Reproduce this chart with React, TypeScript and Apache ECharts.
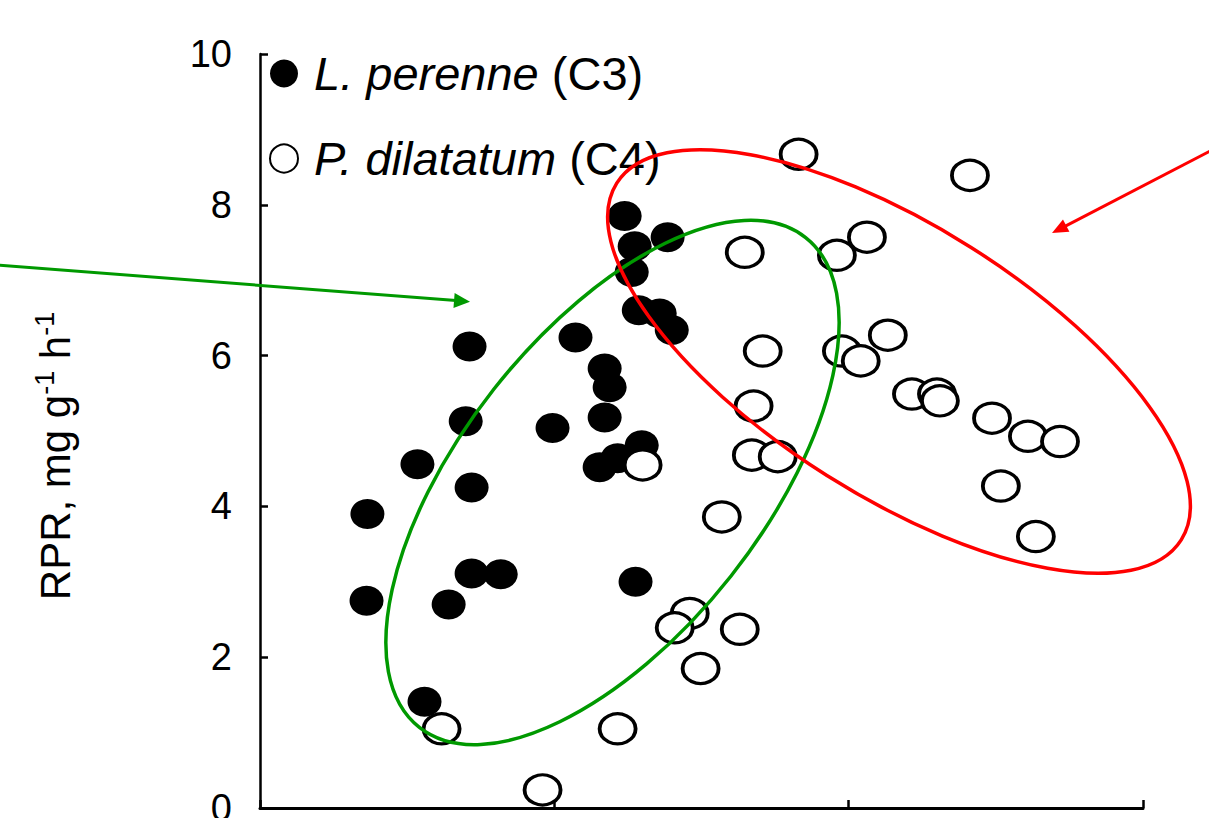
import React, { useEffect, useRef } from "react";
import * as echarts from "echarts";

// ---- data ----
const seriesNames = ["L. perenne (C3)", "P. dilatatum (C4)"];

const perenneX = [3.65, 3.62, 5.59, 5.35, 6.41, 7.12, 6.99, 7.19, 7.19, 8.18, 9.94, 10.72, 11.71, 11.88, 11.71, 11.54, 12.15, 12.97, 12.76, 12.39, 12.73, 12.63, 13.85, 12.87, 13.58, 13.99];
const perenneY = [3.90, 2.75, 1.41, 4.56, 2.70, 6.12, 5.13, 4.25, 3.11, 3.10, 5.04, 6.24, 5.83, 5.58, 5.18, 4.52, 4.64, 4.81, 3.00, 7.85, 7.45, 7.11, 7.57, 6.60, 6.56, 6.34];

const dilatatumX = [18.30, 24.12, 16.47, 19.60, 20.62, 17.08, 19.77, 20.41, 21.33, 16.77, 22.15, 23.00, 23.10, 24.87, 26.09, 27.18, 25.17, 26.36, 16.71, 17.59, 13.00, 15.69, 14.60, 14.09, 16.30, 14.97, 12.15, 6.17, 9.60];
const dilatatumY = [8.67, 8.39, 7.37, 7.33, 7.57, 6.06, 6.06, 5.93, 6.27, 5.33, 5.49, 5.49, 5.40, 5.17, 4.93, 4.86, 4.27, 3.60, 4.68, 4.66, 4.55, 3.86, 2.58, 2.39, 2.37, 1.85, 1.05, 1.05, 0.24];

const yMin = 0;
const yMax = 10;
const yInterval = 2;
const xMin = 0;
const xMax = 30;
const xInterval = 10;

const FONT = "'Liberation Sans', Arial, Helvetica, sans-serif";
const GREEN = "#009900";
const RED = "#ff0000";

function zip(xs: number[], ys: number[]) {
  return xs.map((x, i) => [x, ys[i]]);
}

function arrow(x1: number, y1: number, x2: number, y2: number, color: string, len: number, halfW: number) {
  const dx = x2 - x1;
  const dy = y2 - y1;
  const d = Math.sqrt(dx * dx + dy * dy);
  const ux = dx / d;
  const uy = dy / d;
  const bx = x2 - ux * len;
  const by = y2 - uy * len;
  const px = -uy;
  const py = ux;
  return [
    {
      type: "line",
      z: 100,
      silent: true,
      shape: { x1, y1, x2: bx + ux * 2, y2: by + uy * 2 },
      style: { stroke: color, lineWidth: 3 },
    },
    {
      type: "polygon",
      z: 100,
      silent: true,
      shape: {
        points: [
          [x2, y2],
          [bx + px * halfW, by + py * halfW],
          [bx - px * halfW, by - py * halfW],
        ],
      },
      style: { fill: color, stroke: "none" },
    },
  ];
}

export default function App() {
  const ref = useRef<HTMLDivElement>(null);

  useEffect(() => {
    document.body.style.margin = "0";
    if (!ref.current) return;
    const chart = echarts.init(ref.current, undefined, { renderer: "svg" });
    const H = chart.getHeight();
    const W = chart.getWidth();

    const option: any = {
      animation: false,
      backgroundColor: "#ffffff",
      textStyle: { fontFamily: FONT, color: "#000" },
      grid: {
        left: 260,
        right: W - 1143,
        top: 54,
        bottom: H - 808,
        containLabel: false,
        outerBoundsMode: "none",
      },
      legend: {
        orient: "vertical",
        left: 269,
        top: 50,
        padding: 0,
        itemGap: 38,
        itemWidth: 28,
        itemHeight: 28,
        selectedMode: false,
        data: [
          { name: seriesNames[0] },
          { name: seriesNames[1], itemStyle: { color: "#fff", borderColor: "#000", borderWidth: 2 } },
        ],
        formatter: (name: string) =>
          name === seriesNames[0] ? "{i|L. perenne }{n|(C3)}" : "{i|P. dilatatum }{n|(C4)}",
        textStyle: {
          rich: {
            i: { fontStyle: "italic", fontSize: 47, lineHeight: 46, color: "#000", fontFamily: FONT, padding: [0, 0, 0, 11] },
            n: { fontSize: 47, lineHeight: 46, color: "#000", fontFamily: FONT },
          },
        },
      },
      xAxis: {
        type: "value",
        min: xMin,
        max: xMax,
        interval: xInterval,
        axisLine: { show: true, lineStyle: { color: "#000", width: 3 } },
        axisTick: { show: true, inside: true, length: 8, lineStyle: { color: "#000", width: 2.5 } },
        axisLabel: { show: false },
        splitLine: { show: false },
      },
      yAxis: {
        type: "value",
        min: yMin,
        max: yMax,
        interval: yInterval,
        axisLine: { show: true, lineStyle: { color: "#000", width: 2.5 } },
        axisTick: { show: true, inside: true, length: 8, lineStyle: { color: "#000", width: 2.5 } },
        axisLabel: { fontSize: 38, color: "#000", fontFamily: FONT, margin: 28 },
        splitLine: { show: false },
      },
      series: [
        {
          name: seriesNames[0],
          type: "scatter",
          symbol: "circle",
          symbolSize: [34, 30],
          itemStyle: { color: "#000", opacity: 1 },
          emphasis: { disabled: true },
          data: zip(perenneX, perenneY),
          z: 2,
        },
        {
          name: seriesNames[1],
          type: "scatter",
          symbol: "circle",
          symbolSize: [36, 30],
          itemStyle: { color: "#fff", borderColor: "#000", borderWidth: 3.5, opacity: 1 },
          emphasis: { disabled: true },
          data: zip(dilatatumX, dilatatumY),
          z: 3,
        },
      ],
      graphic: [
        {
          type: "ellipse",
          z: 100,
          silent: true,
          x: 612.5,
          y: 482.5,
          rotation: (51.75 * Math.PI) / 180,
          shape: { cx: 0, cy: 0, rx: 312, ry: 151 },
          style: { fill: "none", stroke: GREEN, lineWidth: 3.5 },
        },
        {
          type: "ellipse",
          z: 100,
          silent: true,
          x: 899,
          y: 361.5,
          rotation: (-32.3 * Math.PI) / 180,
          shape: { cx: 0, cy: 0, rx: 334, ry: 135 },
          style: { fill: "none", stroke: RED, lineWidth: 3.5 },
        },
        ...arrow(-2, 265, 470, 301.7, GREEN, 16, 7.5),
        ...arrow(1214, 149, 1052, 233, RED, 16, 7),
        {
          type: "text",
          z: 100,
          silent: true,
          x: 55,
          y: 456,
          rotation: Math.PI / 2,
          style: {
            text: "{a|RPR, mg g}{s|-1}{a| h}{s|-1}",
            align: "center",
            verticalAlign: "middle",
            rich: {
              a: { fontSize: 42, lineHeight: 48, fontFamily: FONT, fill: "#000", color: "#000" },
              s: { fontSize: 27, lineHeight: 12, verticalAlign: "top", fontFamily: FONT, fill: "#000", color: "#000" },
            },
          },
        },
      ],
    };

    chart.setOption(option);
    return () => chart.dispose();
  }, []);

  return (
    <div
      ref={ref}
      style={{ position: "fixed", left: 0, top: 0, width: 1209, height: 818, background: "#fff" }}
    />
  );
}
